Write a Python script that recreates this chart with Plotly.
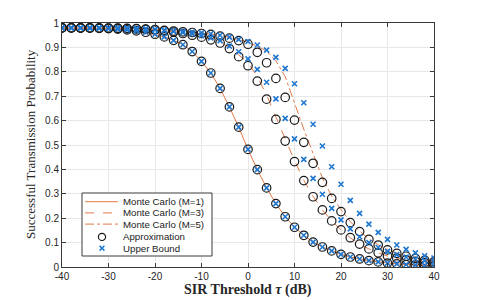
import plotly.graph_objects as go

tau = list(range(-40, 42, 2))

mc1 = [0.980, 0.980, 0.979, 0.979, 0.978, 0.977, 0.975, 0.972, 0.968, 0.962,
       0.954, 0.943, 0.929, 0.911, 0.883, 0.843, 0.795, 0.732, 0.656, 0.573,
       0.482, 0.399, 0.324, 0.260, 0.206, 0.163, 0.130, 0.102, 0.082, 0.066,
       0.052, 0.041, 0.033, 0.026, 0.021, 0.016, 0.013, 0.010, 0.008, 0.006, 0.005]

approx3 = [0.980, 0.980, 0.980, 0.980, 0.979, 0.979, 0.978, 0.977, 0.976, 0.974,
           0.972, 0.968, 0.963, 0.957, 0.950, 0.942, 0.931, 0.918, 0.895, 0.862,
           0.825, 0.762, 0.688, 0.605, 0.516, 0.432, 0.354, 0.288, 0.234, 0.189,
           0.152, 0.120, 0.094, 0.074, 0.058, 0.045, 0.036, 0.029, 0.023, 0.018, 0.015]

ub3 = [0.980, 0.980, 0.980, 0.980, 0.980, 0.979, 0.979, 0.978, 0.977, 0.975,
       0.973, 0.969, 0.965, 0.960, 0.955, 0.948, 0.939, 0.928, 0.905, 0.882,
       0.853, 0.810, 0.757, 0.689, 0.609, 0.525, 0.441, 0.363, 0.298, 0.240,
       0.193, 0.156, 0.124, 0.100, 0.080, 0.064, 0.051, 0.041, 0.033, 0.026, 0.021]

mc3 = [0.980, 0.980, 0.980, 0.980, 0.979, 0.979, 0.978, 0.977, 0.976, 0.974,
       0.972, 0.968, 0.964, 0.958, 0.952, 0.945, 0.935, 0.922, 0.900, 0.870,
       0.838, 0.780, 0.705, 0.615, 0.522, 0.436, 0.356, 0.289, 0.234, 0.189,
       0.152, 0.120, 0.094, 0.074, 0.058, 0.045, 0.036, 0.029, 0.023, 0.018, 0.015]

approx5 = [0.980, 0.980, 0.980, 0.980, 0.980, 0.979, 0.979, 0.978, 0.977, 0.975,
           0.973, 0.970, 0.967, 0.964, 0.961, 0.957, 0.953, 0.946, 0.938, 0.928,
           0.913, 0.880, 0.837, 0.773, 0.695, 0.602, 0.511, 0.425, 0.347, 0.281,
           0.227, 0.182, 0.145, 0.113, 0.090, 0.070, 0.056, 0.044, 0.035, 0.028, 0.022]

ub5 = [0.980, 0.980, 0.980, 0.980, 0.980, 0.980, 0.979, 0.979, 0.978, 0.976,
       0.974, 0.971, 0.968, 0.966, 0.963, 0.960, 0.956, 0.950, 0.942, 0.933,
       0.924, 0.910, 0.889, 0.859, 0.814, 0.751, 0.673, 0.585, 0.496, 0.411,
       0.339, 0.273, 0.220, 0.176, 0.142, 0.113, 0.090, 0.072, 0.058, 0.046, 0.037]

mc5 = [0.980, 0.980, 0.980, 0.980, 0.980, 0.980, 0.979, 0.979, 0.978, 0.976,
       0.974, 0.971, 0.968, 0.965, 0.962, 0.959, 0.955, 0.949, 0.941, 0.932,
       0.921, 0.905, 0.885, 0.845, 0.780, 0.670, 0.565, 0.465, 0.365, 0.290,
       0.235, 0.186, 0.147, 0.115, 0.091, 0.071, 0.056, 0.044, 0.035, 0.028, 0.022]

x_ticks = [-40, -30, -20, -10, 0, 10, 20, 30, 40]
x_tick_text = ["-40", "-30", "-20", "-10", "0", "10", "20", "30", "40"]
y_ticks = [0, 0.1, 0.2, 0.3, 0.4, 0.5, 0.6, 0.7, 0.8, 0.9, 1]
y_tick_text = ["0", "0.1", "0.2", "0.3", "0.4", "0.5", "0.6", "0.7", "0.8", "0.9", "1"]

legend_labels = ["Monte Carlo (M=1)", "Monte Carlo (M=3)", "Monte Carlo (M=5)",
                 "Approximation", "Upper Bound"]

ORANGE = "#E07A4A"
BLUE = "#1F77D0"
DARK = "#1a1a1a"
AXIS = "#3a3a3a"

# page body adds an 8px offset; work in page pixels and convert
OFF = 8
W, H = 480, 300
PL, PR, PT, PB = 62, 434, 23, 267          # plot area in page pixels
L, T = PL - OFF, PT - OFF
R, B = W - (PR - OFF), H - (PB - OFF)
PW, PH = PR - PL, PB - PT


def px2paper(px, py):
    return (px - PL) / PW, (PB - py) / PH


fig = go.Figure()
line_styles = ["solid", "dash", "dashdot"]
for ys, lab, ds in zip([mc1, mc3, mc5], legend_labels[:3], line_styles):
    fig.add_trace(go.Scatter(x=tau, y=ys, mode="lines", name=lab, showlegend=False,
                             line=dict(color=ORANGE, width=1, dash=ds)))

circ = dict(symbol="circle-open", size=8.5, color=DARK, line=dict(width=1.2, color=DARK))
xm = dict(symbol="x-thin-open", size=5, color=BLUE, line=dict(width=1.6, color=BLUE))

for ys in [mc1, approx3, approx5]:
    fig.add_trace(go.Scatter(x=tau, y=ys, mode="markers", name=legend_labels[3],
                             marker=circ, showlegend=False))
for ys in [mc1, ub3, ub5]:
    fig.add_trace(go.Scatter(x=tau, y=ys, mode="markers", name=legend_labels[4],
                             marker=xm, showlegend=False))

axis_common = dict(showline=True, linecolor=AXIS, linewidth=1, mirror="ticks",
                   ticks="inside", ticklen=4, tickcolor=AXIS, automargin=False,
                   showgrid=True, gridcolor="#e8e8e8", gridwidth=1, zeroline=False,
                   tickfont=dict(family="Liberation Sans, Arial", size=10, color="#262626"))

fig.update_xaxes(range=[-40, 40], tickvals=x_ticks, ticktext=x_tick_text, **axis_common)
fig.update_yaxes(range=[0, 1], tickvals=y_ticks, ticktext=y_tick_text, **axis_common)

# --- hand-drawn legend (compact rows as in the reference) ---
shapes = []
annotations = []
bx0, by0 = px2paper(82, 256)
bx1, by1 = px2paper(212, 193)
shapes.append(dict(type="rect", xref="paper", yref="paper", x0=bx0, y0=by0, x1=bx1, y1=by1,
                   line=dict(color=AXIS, width=1), fillcolor="white", layer="above"))
row_y = [201.7, 212.9, 224.1, 236.9, 248.2]
for i, lab in enumerate(legend_labels):
    py = row_y[i]
    if i < 3:
        xa, ya = px2paper(85, py)
        xb, _ = px2paper(118, py)
        shapes.append(dict(type="line", xref="paper", yref="paper", x0=xa, x1=xb, y0=ya, y1=ya,
                           line=dict(color=ORANGE, width=1, dash=line_styles[i]), layer="above"))
    elif i == 3:
        cx, cy = px2paper(102, py)
        shapes.append(dict(type="circle", xref="paper", yref="paper",
                           xsizemode="pixel", ysizemode="pixel", xanchor=cx, yanchor=cy,
                           x0=-3.6, x1=3.6, y0=-3.6, y1=3.6,
                           line=dict(color=DARK, width=1.2), layer="above"))
    else:
        cx, cy = px2paper(102, py)
        for sgn in (1, -1):
            shapes.append(dict(type="line", xref="paper", yref="paper",
                               xsizemode="pixel", ysizemode="pixel", xanchor=cx, yanchor=cy,
                               x0=-2.4, x1=2.4, y0=-2.4 * sgn, y1=2.4 * sgn,
                               line=dict(color=BLUE, width=1.5), layer="above"))
    tx, ty = px2paper(121, py)
    annotations.append(dict(xref="paper", yref="paper", x=tx, y=ty, text=lab, showarrow=False,
                            xanchor="left", yanchor="middle",
                            font=dict(family="Liberation Sans, Arial", size=9.7, color="#1a1a1a")))

# axis titles
tx, ty = px2paper(248, 290)
annotations.append(dict(xref="paper", yref="paper", x=tx, y=ty, showarrow=False,
                        text="<b>SIR Threshold <i>τ</i> (dB)</b>", xanchor="center", yanchor="middle",
                        font=dict(family="Liberation Serif, Times New Roman", size=14, color="#262626")))
tx, ty = px2paper(30, 144)
annotations.append(dict(xref="paper", yref="paper", x=tx, y=ty, showarrow=False, textangle=-90,
                        text="Successful Transmission Probability", xanchor="center", yanchor="middle",
                        font=dict(family="Liberation Serif, Times New Roman", size=13, color="#262626")))

fig.update_layout(
    width=W, height=H,
    margin=dict(l=L, r=R, t=T, b=B),
    paper_bgcolor="white", plot_bgcolor="white",
    showlegend=False,
    shapes=shapes, annotations=annotations,
)

fig.write_html("out.html")
